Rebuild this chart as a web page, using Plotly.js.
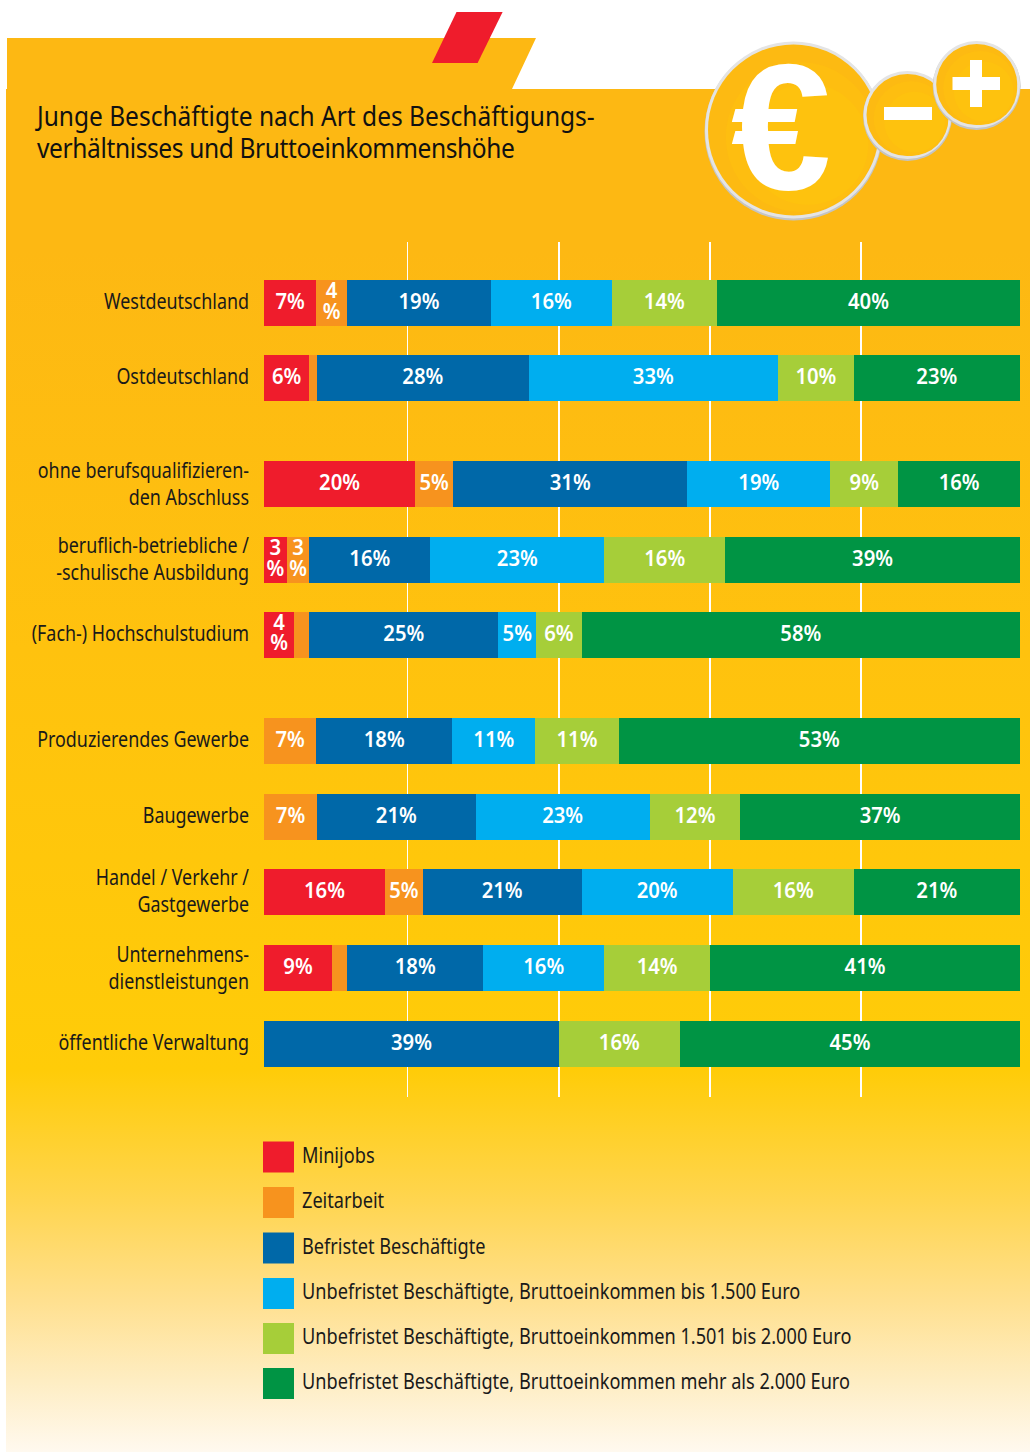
<!DOCTYPE html>
<html lang="de"><head><meta charset="utf-8">
<script src="https://cdn.plot.ly/plotly-3.0.1.min.js"></script>
<style>
html,body{margin:0;padding:0;background:#fff;width:1030px;height:1452px;overflow:hidden}
#panel{position:absolute;left:0;top:0;width:1030px;height:1452px;
background:linear-gradient(to bottom,#FDB813 0px,#FDB813 250px,#FFC20E 650px,#FFCC08 1070px,#FFD54F 1200px,#FFE08F 1300px,#FEEDC2 1380px,#FFF9EF 1452px);
clip-path:polygon(7px 38px,536px 38px,512px 89px,1030px 89px,1030px 1452px,6px 1452px,6px 89px,7px 89px)}
#chart{position:absolute;left:0;top:0;width:1030px;height:1452px}
</style></head><body><div id="panel"></div><div id="chart"></div>
<script>
const FONT='"Noto Sans","Open Sans",sans-serif';
const categories=['Westdeutschland','Ostdeutschland','ohne berufsqualifizieren-<br>den Abschluss','beruflich-betriebliche /<br>-schulische Ausbildung','(Fach-) Hochschulstudium','Produzierendes Gewerbe','Baugewerbe','Handel / Verkehr /<br>Gastgewerbe','Unternehmens-<br>dienstleistungen','öffentliche Verwaltung'];
const rows=[0,0.99,2.4,3.4,4.39,5.8,6.8,7.79,8.8,9.8];
const seriesNames=['Minijobs','Zeitarbeit','Befristet Beschäftigte','Unbefristet Beschäftigte, Bruttoeinkommen bis 1.500 Euro','Unbefristet Beschäftigte, Bruttoeinkommen 1.501 bis 2.000 Euro','Unbefristet Beschäftigte, Bruttoeinkommen mehr als 2.000 Euro'];
const colors=['#EF1C2C','#F7931E','#0068A8','#00AEEF','#A6CE39','#009444'];
const minijobs=[6.9,6,20,3,4,0,0,16,9,0];
const zeitarbeit=[4.1,1,5,3,2,6.9,7,5,2,0];
const befristet=[19,28,31,16,25,18,21,21,18,39];
const bis1500=[16,33,18.9,23,5,11,23,20,16,0];
const bis2000=[13.9,10,9,16,6,11,12,16,14,16];
const mehr2000=[40.1,22,16.1,39,58,53.1,37,22,41,45];
const minijobsLabels=['7%','6%','20%','3<br>%','4<br>%','','','16%','9%',''];
const zeitarbeitLabels=['4<br>%','','5%','3<br>%','','7%','7%','5%','',''];
const befristetLabels=['19%','28%','31%','16%','25%','18%','21%','21%','18%','39%'];
const bis1500Labels=['16%','33%','19%','23%','5%','11%','23%','20%','16%',''];
const bis2000Labels=['14%','10%','9%','16%','6%','11%','12%','16%','14%','16%'];
const mehr2000Labels=['40%','23%','16%','39%','58%','53%','37%','21%','41%','45%'];
const gridTicks=[19,39,59,79];
const values=[minijobs,zeitarbeit,befristet,bis1500,bis2000,mehr2000];
const labels=[minijobsLabels,zeitarbeitLabels,befristetLabels,bis1500Labels,bis2000Labels,mehr2000Labels];

const W=1030,H=1452,L=264,R=10,T=242,B=355;
const px=x=>(x-L)/(W-L-R), py=y=>1-(y-T)/(H-T-B);
const traces=values.map((v,i)=>({type:'bar',orientation:'h',name:seriesNames[i],x:v,y:rows,
  width:0.608,marker:{color:colors[i],line:{width:0}},text:labels[i],textposition:'inside',
  insidetextanchor:'middle',textangle:0,constraintext:'none',cliponaxis:false,
  insidetextfont:{family:FONT,size:22,color:'#fff',weight:600},hoverinfo:'skip'}));

const rect=(x0,y0,x1,y1,c)=>({type:'rect',xref:'paper',yref:'paper',x0:px(x0),x1:px(x1),y0:py(y0),y1:py(y1),fillcolor:c,line:{width:0},layer:'below'});
const circ=(cx,cy,r,c)=>({type:'circle',xref:'paper',yref:'paper',x0:px(cx-r),x1:px(cx+r),y0:py(cy-r),y1:py(cy+r),fillcolor:c,line:{width:0},layer:'below'});
const poly=(pts,c)=>({type:'path',xref:'paper',yref:'paper',path:'M'+pts.map(p=>px(p[0])+','+py(p[1])).join('L')+'Z',fillcolor:c,line:{width:0},layer:'below'});
const coin=(cx,cy,r)=>[circ(cx,cy+1.5,r,'#C4C4C4'),circ(cx,cy,r-0.5,'#E4E4E4'),circ(cx,cy,r-3.5,'#FDBA12'),
  circ(cx+r*0.08,cy+r*0.08,r*0.84,'#FEBE10'),circ(cx+r*0.16,cy+r*0.16,r*0.68,'#FEC20E')];
const shapes=[poly([[456.5,12],[502.6,12],[477.6,63],[432,63]],'#EF1C2C'),
  ...coin(793.5,130,89),...coin(907.5,115,44.5),...coin(976.7,84.5,44),
  rect(884,107,932,120,'#fff'),rect(952.5,77,1000,90,'#fff'),rect(970,60,982,107,'#fff')];
const legendRows=[1157,1202.5,1248,1293.5,1338.5,1383.5];
const annotations=[{xref:'paper',yref:'paper',x:px(781),y:py(126),text:'€',showarrow:false,xanchor:'center',yanchor:'middle',font:{family:'"Liberation Sans",sans-serif',size:180,color:'#fff',weight:700}}];
seriesNames.forEach((n,i)=>{
  shapes.push(rect(263,legendRows[i]-15.5,294,legendRows[i]+15.5,colors[i]));
  annotations.push({xref:'paper',yref:'paper',x:px(300),y:py(legendRows[i]-3.5),text:n,showarrow:false,xanchor:'left',yanchor:'middle',align:'left',font:{family:FONT,size:22,color:'#1a1a1a'}});
});
// Fit the installed fonts to the condensed lettering of the reference:
// each text is scaled horizontally about its own anchor x.
function widest(el){
  const lines=[...el.querySelectorAll('tspan.line')];
  return lines.length?Math.max(...lines.map(t=>t.getComputedTextLength())):el.getComputedTextLength();
}
function squeeze(el,k){
  const ax=parseFloat(el.getAttribute('x')||0), tr=el.getAttribute('transform')||'';
  el.setAttribute('transform',(tr+' translate('+ax+',0) scale('+k.toFixed(4)+',1) translate('+(-ax)+',0)').trim());
}
function leading(el,em){el.querySelectorAll('tspan.line').forEach((t,i)=>{if(i>0)t.setAttribute('dy',em+'em');});}
function nudge(el,dy){el.setAttribute('y',(parseFloat(el.getAttribute('y')||0)+dy).toFixed(2));}
function refine(){
  const ticks=[...document.querySelectorAll('#chart .ytick text')];
  const kT=212/ticks.find(t=>t.textContent==='Produzierendes Gewerbe').getComputedTextLength();
  ticks.forEach(t=>{leading(t,1.23);nudge(t,-2);squeeze(t,kT);});

  const bars=[...document.querySelectorAll('#chart .bartext text, #chart text.bartext')];
  const kB=41/bars.find(t=>t.textContent==='40%').getComputedTextLength();
  bars.forEach(t=>{leading(t,0.95);nudge(t,-3);squeeze(t,kB);});

  const ann=[...document.querySelectorAll('#chart .annotation-text')].filter(t=>t.textContent!=='€');
  const kA=550/ann.reduce((a,b)=>b.textContent.length>a.textContent.length?b:a).getComputedTextLength();
  ann.forEach(t=>squeeze(t,kA));

  const title=document.querySelector('#chart .gtitle');
  const kG=558/widest(title);
  leading(title,1.14);
  title.querySelectorAll('tspan.line')[1].style.letterSpacing='-0.41px';
  squeeze(title,kG);
}
Plotly.newPlot('chart',traces,{
  width:W,height:H,margin:{l:L,r:R,t:T,b:B,autoexpand:false},barmode:'stack',showlegend:false,
  paper_bgcolor:'rgba(0,0,0,0)',plot_bgcolor:'rgba(0,0,0,0)',
  title:{text:'Junge Beschäftigte nach Art des Beschäftigungs-<br>verhältnisses und Bruttoeinkommenshöhe',xref:'container',yref:'container',x:37/W,y:1-126/H,xanchor:'left',yanchor:'top',font:{family:FONT,size:28,color:'#111'}},
  xaxis:{range:[0,100],tickvals:gridTicks,showticklabels:false,showgrid:true,gridcolor:'#fff',gridwidth:1.5,zeroline:false,showline:false,ticks:''},
  yaxis:{range:[10.503,-0.807],tickvals:rows,ticktext:categories,showgrid:false,zeroline:false,showline:false,ticks:'',ticklabelstandoff:14,tickfont:{family:FONT,size:22,color:'#1a1a1a'}},
  shapes,annotations
},{staticPlot:true,displayModeBar:false}).then(refine);
</script></body></html>
